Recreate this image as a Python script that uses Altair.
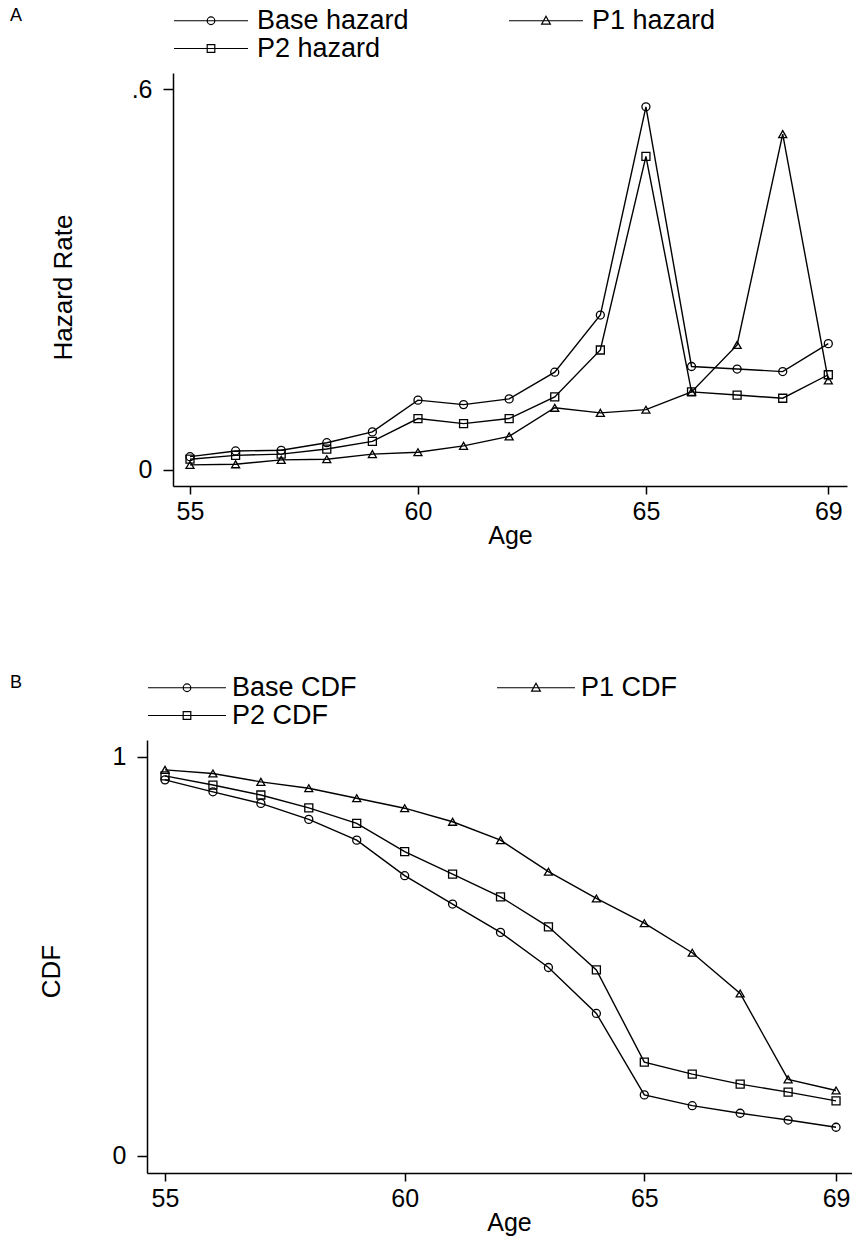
import altair as alt
import pandas as pd

# ---------------- data ----------------
ages = list(range(55, 70))

haz_base = [0.021, 0.030, 0.031, 0.043, 0.060, 0.110, 0.103, 0.112, 0.154, 0.244, 0.572, 0.163, 0.159, 0.155, 0.199]
haz_p1 = [0.008, 0.009, 0.016, 0.017, 0.025, 0.028, 0.038, 0.053, 0.098, 0.090, 0.095, 0.123, 0.197, 0.529, 0.141]
haz_p2 = [0.017, 0.023, 0.025, 0.033, 0.045, 0.081, 0.073, 0.081, 0.115, 0.189, 0.494, 0.123, 0.118, 0.113, 0.150]

cdf_base = [0.942, 0.912, 0.883, 0.843, 0.791, 0.702, 0.631, 0.560, 0.472, 0.357, 0.153, 0.126, 0.107, 0.090, 0.072]
cdf_p1 = [0.967, 0.958, 0.937, 0.921, 0.896, 0.871, 0.837, 0.791, 0.712, 0.645, 0.583, 0.509, 0.407, 0.192, 0.164]
cdf_p2 = [0.952, 0.929, 0.904, 0.872, 0.833, 0.762, 0.706, 0.649, 0.574, 0.466, 0.235, 0.205, 0.180, 0.160, 0.138]

names_a = ["Base hazard", "P1 hazard", "P2 hazard"]
names_b = ["Base CDF", "P1 CDF", "P2 CDF"]
x_ticks = [55, 60, 65, 69]

FONT = "Liberation Sans"
LEG_FONT = 27
SYM_SIZE = 400          # key symbol size; paths reach outside the unit box
SYM_SCALE = SYM_SIZE ** 0.5 / 2


def to_long(names, series):
    rows = []
    for name, vals in zip(names, series):
        for a, v in zip(ages, vals):
            rows.append({"age": a, "value": v, "series": name})
    return pd.DataFrame(rows)


def legend_paths(half_line_px, marker_px=3.8):
    L = round(half_line_px / SYM_SCALE, 3)
    r = round(marker_px / SYM_SCALE, 3)
    base = f"M-{L},0L{L},0"
    circ = base + f"M-{r},0A{r},{r},0,1,0,{r},0A{r},{r},0,1,0,-{r},0Z"
    tri = base + (f"M0,-{r*1.2:.3f}L{r*1.15:.3f},{r*0.9:.3f}"
                  f"L-{r*1.15:.3f},{r*0.9:.3f}Z")
    sq = base + f"M-{r},-{r}L{r},-{r}L{r},{r}L-{r},{r}Z"
    return [circ, tri, sq]


def panel(df, names, xdom, xrange, ydom, w, h, yoffset, yvals, ylabelexpr,
          ytitle, ytx, yty, xtx, title, legx, legy, titlepad, half_line,
          label_start, colpad):
    paths = legend_paths(half_line)
    entry = max(int(SYM_SIZE ** 0.5 + 1.2 + 0.999), LEG_FONT)
    sym_offset = half_line - entry / 2
    label_offset = label_start - entry - sym_offset

    x = alt.X("age:Q",
              scale=alt.Scale(domain=xdom, range=xrange, nice=False, zero=False),
              axis=alt.Axis(values=x_ticks, format="d", title="Age",
                            titleX=xtx,
                            titleY=49, titleBaseline="middle",
                            labelPadding=5, tickSize=8))
    y = alt.Y("value:Q",
              scale=alt.Scale(domain=ydom, nice=False, zero=False),
              axis=alt.Axis(values=yvals, labelExpr=ylabelexpr, title=ytitle,
                            offset=yoffset,
                            titleX=ytx, titleY=yty, titleBaseline="middle",
                            titleFontSize=26, tickSize=10, labelPadding=11))

    lines = alt.Chart(df).mark_line(color="black", strokeWidth=1.4).encode(
        x=x, y=y, detail="series:N")

    pts = alt.Chart(df).mark_point(
        filled=False, size=64, strokeWidth=1.3, color="black", opacity=1
    ).encode(
        x=x, y=y,
        shape=alt.Shape(
            "series:N",
            scale=alt.Scale(domain=names, range=["circle", "triangle-up", "square"]),
            legend=None,
        ),
    )

    # legend-only layer: no rows drawn, its shape scale carries the key symbols
    key = alt.Chart(df).transform_filter("false").mark_point(
        filled=False, strokeWidth=1.2, color="black", opacity=1
    ).encode(
        x=x, y=y,
        shape=alt.Shape(
            "series:N",
            scale=alt.Scale(domain=names, range=paths),
            legend=alt.Legend(
                orient="none", legendX=legx, legendY=legy,
                direction="horizontal", columns=2,
                title=title, titleOrient="left", titleAnchor="start",
                titlePadding=titlepad,
                titleFontSize=18, titleFontWeight="normal", titleColor="black",
                titleFont=FONT,
                labelFont=FONT, labelFontSize=LEG_FONT, labelColor="black",
                labelOffset=label_offset, symbolOffset=sym_offset,
                symbolSize=SYM_SIZE, symbolStrokeWidth=1.2,
                symbolStrokeColor="black", symbolOpacity=1,
                columnPadding=colpad, rowPadding=0,
            ),
        ),
    )
    return alt.layer(lines, pts, key).resolve_scale(shape="independent").properties(
        width=w, height=h)


df_a = to_long(names_a, [haz_base, haz_p1, haz_p2])
df_b = to_long(names_b, [cdf_base, cdf_p1, cdf_p2])

# both plot areas start at the same x; panel A's axes are pushed 26 px inward
chart_a = panel(
    df_a, names_a,
    xdom=[54.627, 69.41], xrange=[26, 700], ydom=[-0.0252, 0.6252],
    w=700, h=413, yoffset=-26,
    yvals=[0, 0.6],
    ylabelexpr="datum.value == 0 ? '0' : replace(format(datum.value, '.1f'), '0.', '.')",
    ytitle="Hazard Rate", ytx=-110, yty=214, xtx=363,
    title="A", legx=-137, legy=-66, titlepad=151,
    half_line=37, label_start=83, colpad=97,
)

chart_b = panel(
    df_b, names_b,
    xdom=[54.6245, 69.333], xrange=[0, 705], ydom=[-0.0426, 1.0418],
    w=705, h=433, yoffset=0,
    yvals=[0, 1],
    ylabelexpr="format(datum.value, 'd')",
    ytitle="CDF", ytx=-96, yty=231, xtx=362,
    title="B", legx=-137, legy=-66, titlepad=125,
    half_line=39, label_start=84, colpad=137,
)

chart = alt.vconcat(chart_a, chart_b, spacing=126).resolve_scale(
    shape="independent", x="independent", y="independent"
).configure(
    padding={"left": 10, "top": 7, "right": 0, "bottom": 2},
    background="white",
).configure_view(
    stroke=None
).configure_axis(
    grid=False, domainColor="black", domainWidth=1.5,
    tickColor="black", tickWidth=1.5,
    labelColor="black", titleColor="black",
    labelFont=FONT, titleFont=FONT,
    labelFontSize=25, titleFontSize=25, titleFontWeight="normal",
)

chart.save("out.html", embed_options={"renderer": "svg", "actions": False})
